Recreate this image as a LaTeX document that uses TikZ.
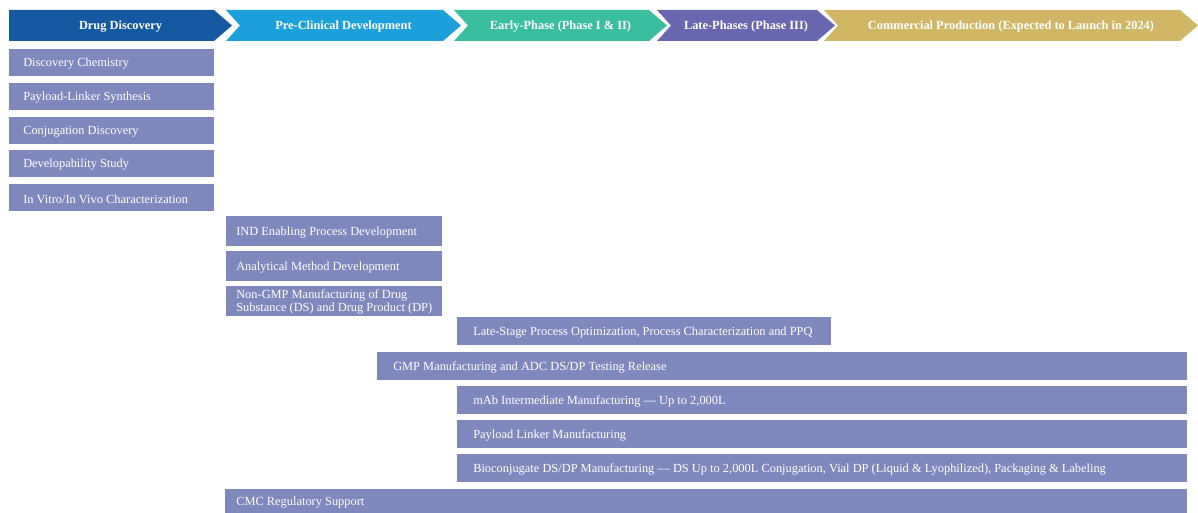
\documentclass[tikz,border=0pt]{standalone}
\usepackage{fontspec}
\setmainfont{Liberation Serif}
\usetikzlibrary{positioning}

\definecolor{discblue}{HTML}{1559A3}
\definecolor{preblue}{HTML}{1CA0DB}
\definecolor{earlygreen}{HTML}{3ABE9F}
\definecolor{latepurple}{HTML}{6A67B1}
\definecolor{commgold}{HTML}{CFB766}
\definecolor{taskfill}{HTML}{7F88BD}

\begin{document}
\begin{tikzpicture}[x=0.75pt, y=-0.75pt,
    phase/.style={font=\fontsize{9.3}{11}\selectfont\bfseries, text=white, inner sep=0pt},
    task/.style={fill=taskfill, inner sep=0pt, anchor=north west},
    tasklabel/.style={text=white, font=\fontsize{9.3}{11}\selectfont, inner sep=0pt,
        align=left, yshift=-0.8pt}]
    \useasboundingbox (0,0) rectangle (1198,513);

    % Phase chevrons
    \foreach \n/\xs/\dn/\xe/\col/\txt in {
        disc/9/0/214/discblue/{Drug Discovery},
        pre/226/14/443/preblue/{Pre-Clinical Development},
        early/454/14/649/earlygreen/{Early-Phase (Phase I \& II)},
        late/657/14/817/latepurple/{Late-Phases (Phase III)},
        comm/824/14/1180/commgold/{Commercial Production (Expected to Launch in 2024)}} {
        \fill[\col] (\xs,10) -- (\xe,10) -- ({\xe+18},25.5) -- (\xe,41) -- (\xs,41) -- ({\xs+\dn},25.5) -- cycle;
        \node[phase] (\n) at ({(\xs+\xe+18)/2},26.5) {\txt};
    }

    % Activity bars
    \foreach \n/\xa/\ya/\xb/\yb/\pad/\txt in {
        dchem/9/49/214/76/14/{Discovery Chemistry},
        plsyn/9/83/214/110/14/{Payload-Linker Synthesis},
        conj/9/117/214/144/14/{Conjugation Discovery},
        dvlp/9/150/214/177/14/{Developability Study},
        vivo/9/184/214/211/14/{In Vitro/In Vivo Characterization},
        ind/226/216/442/246/10/{IND Enabling Process Development},
        anal/226/251/442/281/10/{Analytical Method Development},
        ngmp/226/286/442/316/10/{Non-GMP Manufacturing of Drug\\[-1.2pt]Substance (DS) and Drug Product (DP)},
        ppq/457/317/831/345/16/{Late-Stage Process Optimization, Process Characterization and PPQ},
        gmp/377/352/1187/380/16/{GMP Manufacturing and ADC DS/DP Testing Release},
        mab/457/386/1187/414/16/{mAb Intermediate Manufacturing --- Up to 2,000L},
        plman/457/420/1187/448/16/{Payload Linker Manufacturing},
        bioc/457/454/1187/482/16/{Bioconjugate DS/DP Manufacturing --- DS Up to 2,000L Conjugation, Vial DP (Liquid \& Lyophilized), Packaging \& Labeling},
        cmc/225/489/1187/513/11/{CMC Regulatory Support}} {
        \pgfmathsetmacro{\w}{(\xb-\xa)*0.75}
        \pgfmathsetmacro{\h}{(\yb-\ya)*0.75}
        \pgfmathsetmacro{\p}{\pad*0.75}
        \node[task, minimum width=\w pt, minimum height=\h pt] (\n) at (\xa,\ya) {};
        \node[tasklabel, right=\p pt of \n.west] (\n-txt) {\txt};
    }
\end{tikzpicture}
\end{document}
